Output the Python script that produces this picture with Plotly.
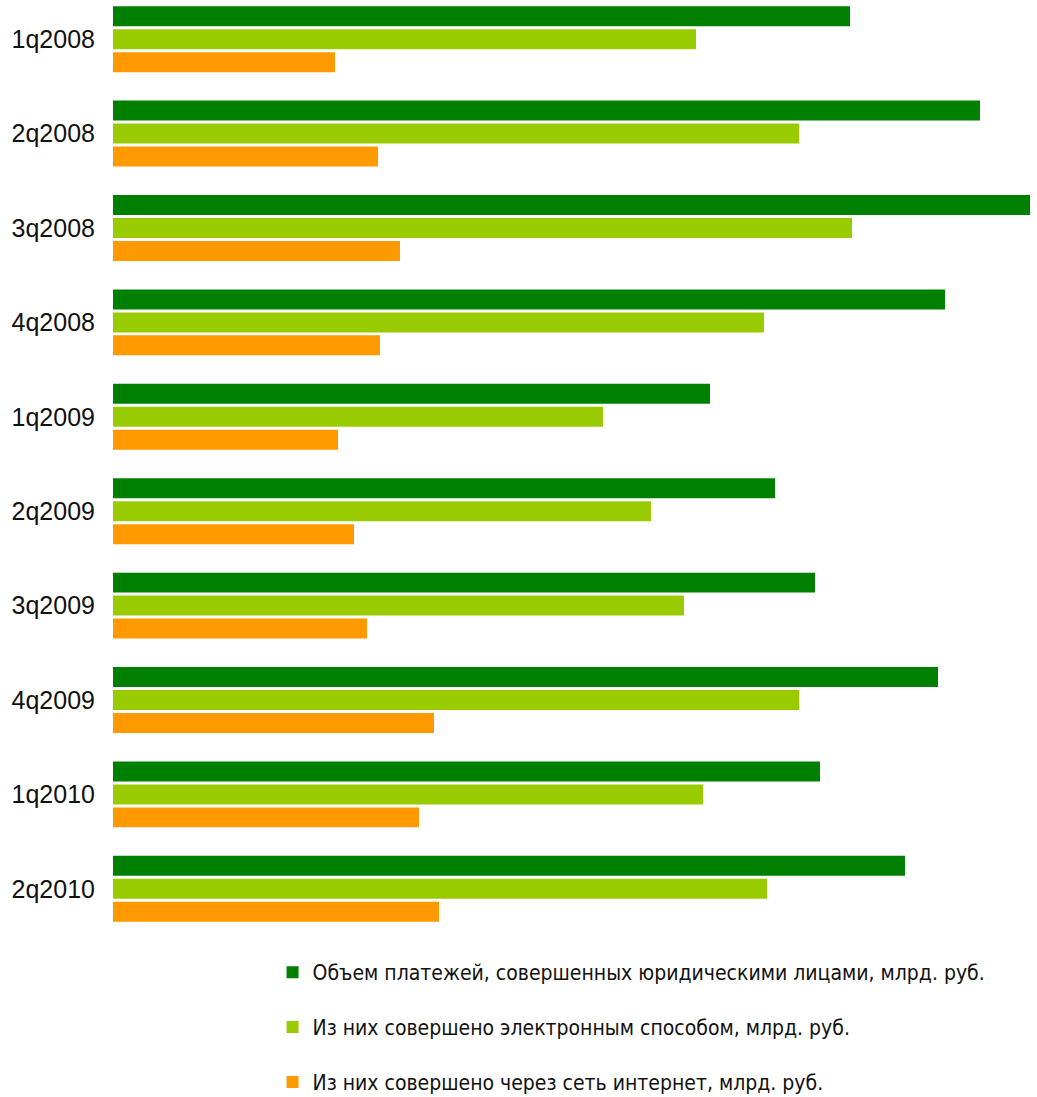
import plotly.graph_objects as go

categories = ["1q2008", "2q2008", "3q2008", "4q2008", "1q2009",
              "2q2009", "3q2009", "4q2009", "1q2010", "2q2010"]
total_payments = [737, 867, 917, 832, 597, 662, 702, 825, 707, 792]
electronic = [583, 686, 739, 651, 490, 538, 571, 686, 590, 654]
internet = [222, 265, 287, 267, 225, 241, 254, 321, 306, 326]

names = [
    "Объем платежей, совершенных юридическими лицами, млрд. руб.",
    "Из них совершено электронным способом, млрд. руб.",
    "Из них совершено через сеть интернет, млрд. руб.",
]
colors = ["#008000", "#99CC00", "#FF9900"]

fig = go.Figure()
for i, (vals, name, col) in enumerate(zip([total_payments, electronic, internet], names, colors)):
    fig.add_trace(go.Bar(
        y=categories, x=vals, orientation="h", name=name,
        marker=dict(color=col, line=dict(width=0)),
        legendgroup=f"g{i}",
    ))

fig.update_layout(
    width=1037, height=1097,
    margin=dict(l=113, r=7, t=0, b=161, autoexpand=False),
    paper_bgcolor="white", plot_bgcolor="white",
    barmode="group", bargap=0.27, bargroupgap=0.13,
    font=dict(family="Liberation Sans, Arial, sans-serif", color="#111111"),
    showlegend=True,
    legend=dict(
        orientation="v", x=0.174, xanchor="left", y=-0.1775, yanchor="bottom",
        traceorder="grouped", tracegroupgap=24.5,
        font=dict(family="DejaVu Sans Condensed, Liberation Sans Narrow, sans-serif", size=21, color="#111111"),
        bgcolor="rgba(0,0,0,0)",
    ),
    xaxis=dict(range=[0, 917], showticklabels=False, showgrid=False,
               zeroline=False, showline=False, ticks=""),
    yaxis=dict(autorange=False, range=[9.5, -0.415], showgrid=False,
               zeroline=False, showline=False, ticks="", ticklen=0,
               tickfont=dict(size=25, family="Liberation Sans, Arial, sans-serif", color="#111111"),
               ticklabelstandoff=17),
)

fig.write_html("out.html")
